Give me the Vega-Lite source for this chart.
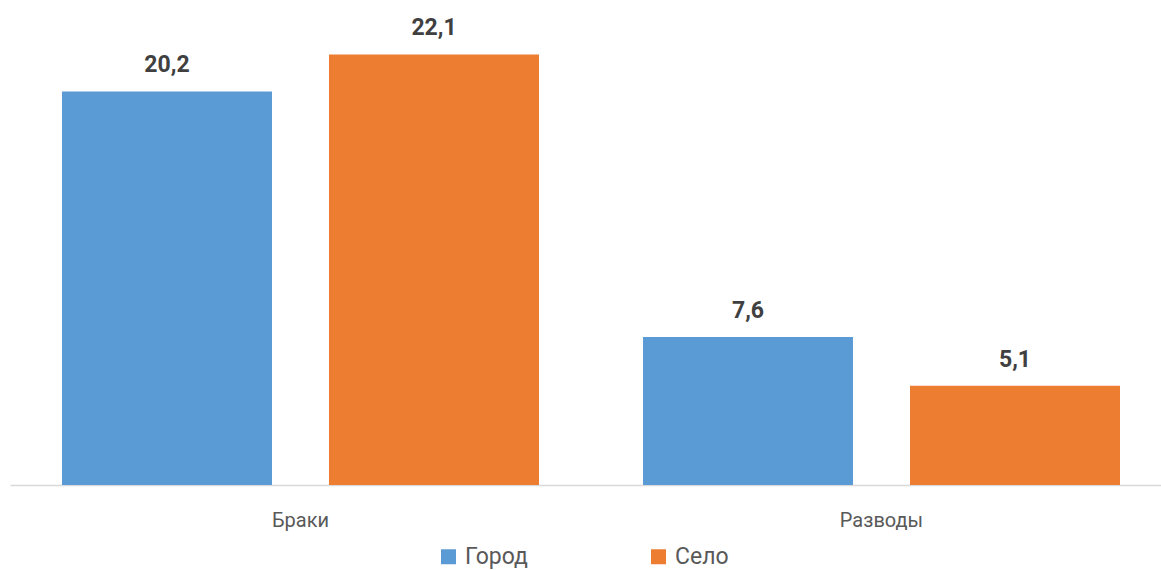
{
  "$schema": "https://vega.github.io/schema/vega-lite/v6.json",
  "width": 1162,
  "height": 480,
  "autosize": {"type": "none"},
  "padding": {"left": 10, "top": 5, "right": 0, "bottom": 85},
  "data": {"values": [
    {"category": "Браки", "series": "Город", "value": 20.2},
    {"category": "Браки", "series": "Село", "value": 22.1},
    {"category": "Разводы", "series": "Город", "value": 7.6},
    {"category": "Разводы", "series": "Село", "value": 5.1}
  ]},
  "config": {
    "view": {"stroke": null},
    "font": "Roboto",
    "locale": {"number": {"decimal": ",", "thousands": " ", "grouping": [3], "currency": ["", ""]}}
  },
  "encoding": {
    "x": {
      "field": "category", "type": "nominal", "sort": null,
      "scale": {"paddingInner": 0.179, "paddingOuter": 0.0895},
      "axis": {"title": null, "labelAngle": 0, "ticks": false, "tickSize": 0, "labelPadding": 25, "labelFontSize": 20, "labelColor": "#595959", "labelFont": "Roboto", "domainColor": "#D9D9D9", "domainWidth": 1.5}
    },
    "xOffset": {"field": "series", "type": "nominal", "sort": ["Город", "Село"], "scale": {"paddingInner": 0.2135, "paddingOuter": 0}},
    "y": {"field": "value", "type": "quantitative", "scale": {"domain": [0, 24.64]}, "axis": null}
  },
  "layer": [
    {
      "mark": {"type": "bar"},
      "encoding": {
        "color": {
          "field": "series", "type": "nominal",
          "scale": {"domain": ["Город", "Село"], "range": ["#5B9BD5", "#ED7D31"]},
          "legend": {"orient": "none", "legendX": 427, "legendY": 540, "direction": "horizontal", "title": null, "symbolType": "square", "symbolSize": 225, "symbolStrokeWidth": 0, "labelFontSize": 23, "labelColor": "#595959", "labelFont": "Roboto", "labelOffset": 5, "columnPadding": 119}
        }
      }
    },
    {
      "mark": {"type": "text", "fontSize": 23, "fontWeight": "bold", "color": "#404040", "dy": -19, "baseline": "alphabetic", "font": "Roboto"},
      "encoding": {"text": {"field": "value", "type": "quantitative", "format": ".1f"}}
    }
  ]
}
